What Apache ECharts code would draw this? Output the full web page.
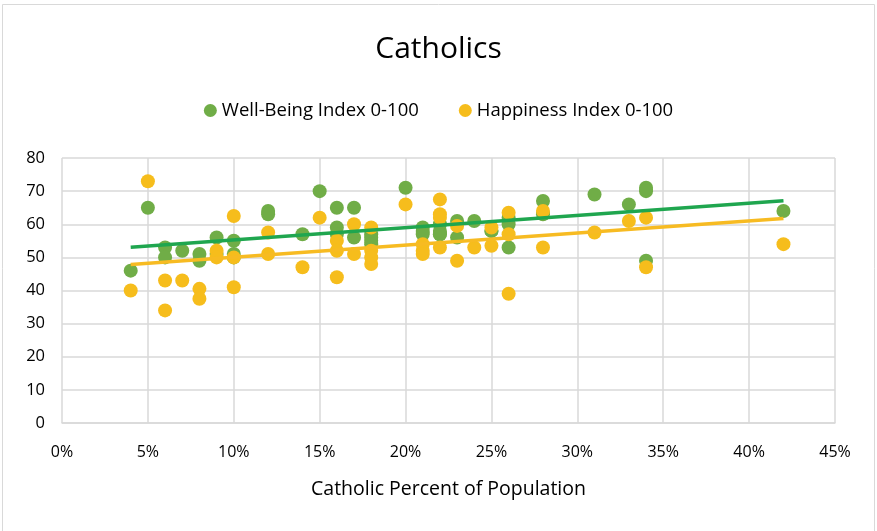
<!DOCTYPE html>
<html>
<head>
<meta charset="utf-8">
<script src="https://cdn.jsdelivr.net/npm/echarts@6/dist/echarts.min.js"></script>
<style>
  html, body { margin: 0; padding: 0; background: #fff; }
  #chart { width: 877px; height: 531px; }
</style>
</head>
<body>
<div id="chart"></div>
<script>
// Catholic percent of population (x) with each index value (y)
var wellBeing = [
  [4, 46], [5, 65], [6, 53], [6, 50], [7, 52], [8, 51], [8, 49], [9, 56], [9, 51],
  [10, 55], [10, 51], [10, 50], [12, 64], [12, 63], [14, 57], [15, 70],
  [16, 65], [16, 59], [16, 57], [17, 65], [17, 56], [18, 57], [18, 56], [18, 55], [18, 54],
  [20, 71], [21, 59], [21, 58], [21, 57], [22, 60], [22, 58], [22, 57], [22, 57],
  [23, 61], [23, 56], [24, 61], [25, 58], [25, 58], [26, 62], [26, 60], [26, 53],
  [28, 67], [28, 63], [31, 69], [33, 66], [34, 71], [34, 70], [34, 49], [42, 64]
];
var happiness = [
  [4, 40], [5, 73], [6, 43], [6, 34], [7, 43], [8, 40.5], [8, 37.5], [9, 52], [9, 50],
  [10, 62.5], [10, 50], [10, 41], [12, 57.5], [12, 51], [14, 47], [15, 62],
  [16, 55], [16, 52], [16, 44], [17, 60], [17, 51], [18, 59], [18, 52], [18, 50], [18, 48],
  [20, 66], [21, 54], [21, 52], [21, 51], [22, 67.5], [22, 63], [22, 62], [22, 53],
  [23, 59.5], [23, 49], [24, 53], [25, 59], [25, 53.5], [26, 63.5], [26, 57], [26, 39],
  [28, 64], [28, 53], [31, 57.5], [33, 61], [34, 62], [34, 47], [42, 54]
];
var seriesNames = ["Well-Being Index 0-100", "Happiness Index 0-100"];
var dotColors = ["#70ad47", "#f6bd1c"];
var lineColors = ["#1fa64f", "#f7bb22"];

// 线性趋势线 (Excel linear trendline)
function trendLine(points) {
  var n = points.length, sx = 0, sy = 0, sxx = 0, sxy = 0;
  var minX = Infinity, maxX = -Infinity;
  points.forEach(function (p) {
    sx += p[0]; sy += p[1]; sxx += p[0] * p[0]; sxy += p[0] * p[1];
    minX = Math.min(minX, p[0]); maxX = Math.max(maxX, p[0]);
  });
  var slope = (n * sxy - sx * sy) / (n * sxx - sx * sx);
  var icpt = (sy - slope * sx) / n;
  return [[minX, icpt + slope * minX], [maxX, icpt + slope * maxX]];
}

var chart = echarts.init(document.getElementById("chart"));
var font = "'Open Sans', 'Liberation Sans', sans-serif";
var dataSets = [wellBeing, happiness];
var series = [];
dataSets.forEach(function (d, i) {
  series.push({
    name: seriesNames[i],
    type: "scatter",
    data: d,
    symbolSize: 14,
    itemStyle: { color: dotColors[i], opacity: 1 },
    z: 2
  });
});
dataSets.forEach(function (d, i) {
  series.push({
    name: seriesNames[i] + " trend",
    type: "line",
    data: trendLine(d),
    symbol: "none",
    lineStyle: { color: lineColors[i], width: 3.5 },
    silent: true,
    z: 3
  });
});

chart.setOption({
  animation: false,
  textStyle: { fontFamily: font },
  graphic: [{
    type: "rect",
    shape: { x: 2.5, y: 4.5, width: 872, height: 530 },
    style: { fill: "none", stroke: "#d9d9d9", lineWidth: 1 }
  }],
  title: {
    text: "Catholics",
    left: "center",
    top: 29,
    textStyle: { fontSize: 30, fontWeight: "normal", color: "#000", fontFamily: font }
  },
  legend: {
    data: seriesNames,
    top: 96,
    left: "center",
    itemGap: 40,
    icon: "circle",
    itemWidth: 13,
    itemHeight: 13,
    textStyle: { fontSize: 18.5, color: "#000", fontFamily: font }
  },
  grid: { left: 62, right: 42, top: 158, bottom: 108 },
  xAxis: {
    type: "value",
    min: 0,
    max: 45,
    interval: 5,
    name: "Catholic Percent of Population",
    nameLocation: "middle",
    nameGap: 56,
    nameTextStyle: { fontSize: 19.5, color: "#000", fontFamily: font },
    axisLine: { show: true, lineStyle: { color: "#d9d9d9", width: 1.5 } },
    axisTick: { show: false },
    axisLabel: { formatter: "{value}%", fontSize: 16, color: "#000", margin: 21 },
    splitLine: { show: true, lineStyle: { color: "#d9d9d9", width: 1.5 } }
  },
  yAxis: {
    type: "value",
    min: 0,
    max: 80,
    interval: 10,
    axisLine: { show: false },
    axisTick: { show: false },
    axisLabel: { fontSize: 16.5, color: "#000", margin: 17 },
    splitLine: { show: true, lineStyle: { color: "#d9d9d9", width: 1.5 } }
  },
  series: series
});
</script>
</body>
</html>
